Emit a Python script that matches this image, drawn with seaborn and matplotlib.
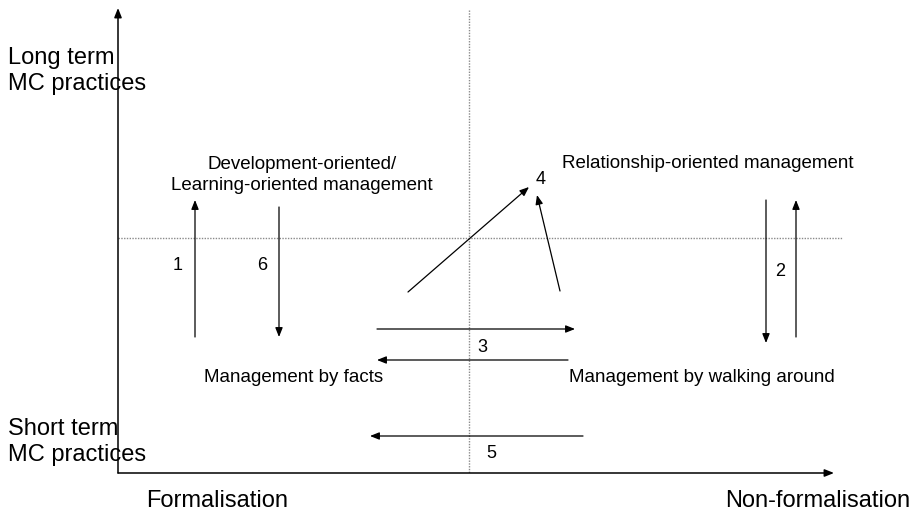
import matplotlib
matplotlib.use('Agg')
import matplotlib.pyplot as plt
import seaborn as sns
import pandas as pd

# diagram laid out in pixel units of the 917x515 canvas
W, H = 917, 515

# main axes (origin, end of x axis, end of y axis)
origin = (118, 473)
x_axis_end = (834, 473)
y_axis_end = (118, 8)

# dotted quadrant guides
guide_h = {'x': [118, 842], 'y': [238, 238]}
guide_v = {'x': [469, 469], 'y': [10, 473]}

# numbered transition arrows: tail -> head
arrow_tails = [(195, 337), (279, 207), (766, 200), (796, 337),
               (377, 329), (568, 360), (583, 436), (408, 292), (560, 291)]
arrow_heads = [(195, 200), (279, 337), (766, 343), (796, 200),
               (575, 329), (377, 360), (370, 436), (529, 187), (537, 195)]

number_labels = ['1', '6', '2', '3', '4', '5']
number_pos = [(178, 266), (262, 266), (780, 271), (482, 347), (541, 180), (491, 453)]

region_labels = ['Development-oriented/\nLearning-oriented management',
                 'Relationship-oriented management',
                 'Management by facts',
                 'Management by walking around']
region_pos = [(302, 175), (708, 163), (294, 377), (702, 377)]

axis_labels = ['Long term\nMC practices', 'Short term\nMC practices',
               'Formalisation', 'Non-formalisation']
axis_pos = [(8, 71), (8, 442), (217, 501), (910, 501)]
axis_ha = ['left', 'left', 'center', 'right']

sns.set_theme(style='white')
plt.rcParams['font.family'] = ['Liberation Sans', 'DejaVu Sans']

fig = plt.figure(figsize=(W / 100, H / 100), dpi=100)
ax = fig.add_axes([0, 0, 1, 1])
ax.set_xlim(0, W)
ax.set_ylim(H, 0)
ax.axis('off')

for g in (guide_h, guide_v):
    sns.lineplot(data=pd.DataFrame(g), x='x', y='y', estimator=None, sort=False,
                 color='#8a8a8a', lw=1.0, linestyle=(0, (1, 1)), ax=ax)

head = dict(arrowstyle='-|>,head_length=0.55,head_width=0.22', color='black',
            lw=0.9, shrinkA=0, shrinkB=0, mutation_scale=10)
for end in (x_axis_end, y_axis_end):
    ax.annotate('', xy=end, xytext=origin, arrowprops=dict(head, lw=1.1))
for tail, tip in zip(arrow_tails, arrow_heads):
    ax.annotate('', xy=tip, xytext=tail, arrowprops=head)

for lab, (x, y) in zip(number_labels, number_pos):
    ax.text(x, y, lab, fontsize=13, ha='center', va='center', color='black')
for lab, (x, y) in zip(region_labels, region_pos):
    ax.text(x, y, lab, fontsize=13.5, ha='center', va='center', color='black',
            linespacing=1.28)
for lab, (x, y), ha in zip(axis_labels, axis_pos, axis_ha):
    ax.text(x, y, lab, fontsize=17, ha=ha, va='center', color='black',
            linespacing=1.2)

fig.savefig('out.png', dpi=100)
